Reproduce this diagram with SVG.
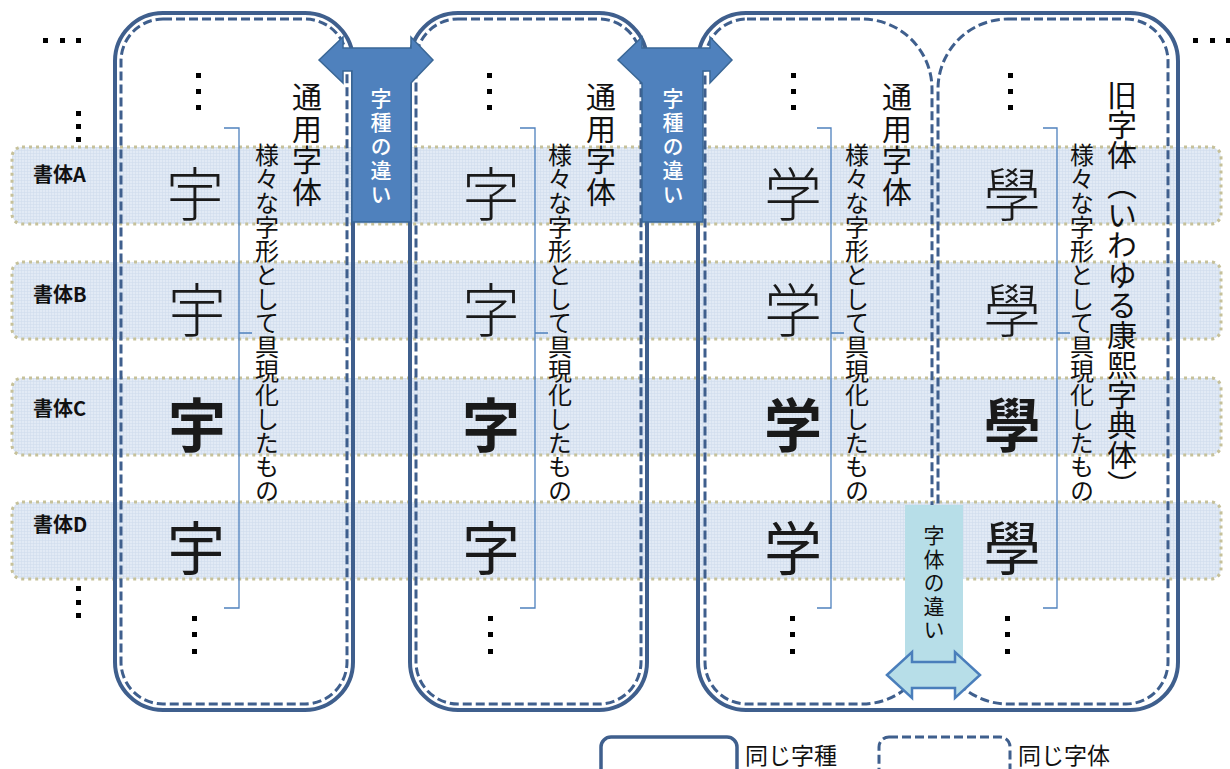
<svg xmlns="http://www.w3.org/2000/svg" width="1230" height="769" viewBox="0 0 1230 769">
<defs>
<pattern id="grid" width="3" height="3" patternUnits="userSpaceOnUse">
<rect width="3" height="3" fill="#e2eaf5"/>
<path d="M0,0.5H3M0.5,0V3" stroke="#d0dcec" stroke-width="0.6"/>
</pattern>
</defs>
<style>
.band{fill:url(#grid);stroke:#c6c19a;stroke-width:3;stroke-dasharray:3 4;}
.lbl{font-family:"Noto Sans CJK JP",sans-serif;font-size:20px;font-weight:700;fill:#111;}
.solid{fill:none;stroke:#3f5f8d;stroke-width:4;}
.dash{fill:none;stroke:#3f5f8d;stroke-width:3;stroke-dasharray:9 4;}
.big{font-family:"Noto Sans CJK JP",sans-serif;font-size:58px;text-anchor:middle;dominant-baseline:central;fill:#1a1a1a;}
.fa{font-weight:200}.fb{font-weight:300}.fc{font-weight:700}.fd{font-weight:400}
.vt{font-family:"Noto Sans CJK JP",sans-serif;writing-mode:vertical-rl;fill:#111;}
.title{font-size:30px;letter-spacing:1.5px}
.title2{font-size:30px}
.desc{font-size:24px}
.dot{fill:#000}
.brace{fill:none;stroke:#4f81bd;stroke-width:1.3}
.arrowdk{fill:#4f81bd;stroke:#3a6796;stroke-width:1.5}
.arrowlt{fill:#b7dee8;stroke:#4a7ebb;stroke-width:2.5}
.lg{font-family:"Noto Sans CJK JP",sans-serif;font-size:23px;fill:#111;}
</style>

<g id="bands">
<rect class="band" x="12" y="147" width="1209" height="77" rx="10"/>
<rect class="band" x="12" y="262" width="1209" height="77" rx="10"/>
<rect class="band" x="12" y="378" width="1209" height="77" rx="10"/>
<rect class="band" x="12" y="502" width="1209" height="77" rx="10"/>
<text class="lbl" x="33" y="182">書体A</text>
<text class="lbl" x="33" y="302">書体B</text>
<text class="lbl" x="33" y="416">書体C</text>
<text class="lbl" x="33" y="532">書体D</text>
</g>

<g id="margin-dots">
<rect class="dot" x="43" y="38" width="5" height="5"/>
<rect class="dot" x="60" y="38" width="5" height="5"/>
<rect class="dot" x="76" y="38" width="5" height="5"/>
<rect class="dot" x="1193" y="38" width="5" height="5"/>
<rect class="dot" x="1210" y="38" width="5" height="5"/>
<rect class="dot" x="1226" y="38" width="5" height="5"/>
<rect class="dot" x="76" y="111" width="5" height="5"/>
<rect class="dot" x="76" y="124" width="5" height="5"/>
<rect class="dot" x="76" y="137" width="5" height="5"/>
<rect class="dot" x="76" y="586" width="5" height="5"/>
<rect class="dot" x="76" y="600" width="5" height="5"/>
<rect class="dot" x="76" y="613" width="5" height="5"/>
</g>

<g id="col1">
<rect class="solid" x="115" y="13" width="238" height="697" rx="48"/>
<rect class="dash" x="121" y="19" width="226" height="685" rx="42"/>
<rect class="dot" x="196" y="73" width="5" height="5"/>
<rect class="dot" x="196" y="89" width="5" height="5"/>
<rect class="dot" x="196" y="105" width="5" height="5"/>
<rect class="dot" x="192" y="616" width="5" height="5"/>
<rect class="dot" x="192" y="632" width="5" height="5"/>
<rect class="dot" x="192" y="649" width="5" height="5"/>
<text class="big fa" x="195" y="191">宇</text>
<text class="big fb" x="197" y="307">宇</text>
<text class="big fc" x="197" y="422">宇</text>
<text class="big fd" x="196" y="545">宇</text>
<path class="brace" d="M224,128 H239 V333 H252 M239,333 V608 H224"/>
<text class="vt title" x="307" y="82">通用字体</text>
<text class="vt desc" x="267" y="143">様々な字形として具現化したもの</text>
</g>

<g id="col2">
<rect class="solid" x="410" y="13" width="237" height="697" rx="48"/>
<rect class="dash" x="416" y="19" width="225" height="685" rx="42"/>
<rect class="dot" x="487" y="73" width="5" height="5"/>
<rect class="dot" x="487" y="89" width="5" height="5"/>
<rect class="dot" x="487" y="105" width="5" height="5"/>
<rect class="dot" x="488" y="616" width="5" height="5"/>
<rect class="dot" x="488" y="632" width="5" height="5"/>
<rect class="dot" x="488" y="649" width="5" height="5"/>
<text class="big fa" x="491" y="191">字</text>
<text class="big fb" x="491" y="307">字</text>
<text class="big fc" x="491" y="422">字</text>
<text class="big fd" x="491" y="545">字</text>
<path class="brace" d="M520,128 H535 V333 H548 M535,333 V608 H520"/>
<text class="vt title" x="601" y="82">通用字体</text>
<text class="vt desc" x="560" y="143">様々な字形として具現化したもの</text>
</g>

<g id="box-same-kind">
<rect class="solid" x="698" y="13" width="480" height="697" rx="48"/>
</g>

<g id="col3">
<path class="dash" d="M747,19 H862 A70,70 0 0 1 932,89 V634 A70,70 0 0 1 862,704 H747 A42,42 0 0 1 705,662 V61 A42,42 0 0 1 747,19 Z"/>
<rect class="dot" x="791" y="73" width="5" height="5"/>
<rect class="dot" x="791" y="89" width="5" height="5"/>
<rect class="dot" x="791" y="105" width="5" height="5"/>
<rect class="dot" x="790" y="616" width="5" height="5"/>
<rect class="dot" x="790" y="632" width="5" height="5"/>
<rect class="dot" x="790" y="649" width="5" height="5"/>
<text class="big fa" x="793" y="191">学</text>
<text class="big fb" x="793" y="307">学</text>
<text class="big fc" x="793" y="422">学</text>
<text class="big fd" x="793" y="545">学</text>
<path class="brace" d="M817,128 H831 V333 H844 M831,333 V608 H817"/>
<text class="vt title" x="897" y="82">通用字体</text>
<text class="vt desc" x="857" y="143">様々な字形として具現化したもの</text>
</g>

<g id="col4">
<path class="dash" d="M1008,19 H1126 A42,42 0 0 1 1168,61 V662 A42,42 0 0 1 1126,704 H1008 A70,70 0 0 1 938,634 V89 A70,70 0 0 1 1008,19 Z"/>
<rect class="dot" x="1008" y="73" width="5" height="5"/>
<rect class="dot" x="1008" y="89" width="5" height="5"/>
<rect class="dot" x="1008" y="105" width="5" height="5"/>
<rect class="dot" x="1005" y="616" width="5" height="5"/>
<rect class="dot" x="1005" y="632" width="5" height="5"/>
<rect class="dot" x="1005" y="649" width="5" height="5"/>
<text class="big fa" x="1012" y="191">學</text>
<text class="big fb" x="1012" y="307">學</text>
<text class="big fc" x="1012" y="422">學</text>
<text class="big fd" x="1012" y="545">學</text>
<path class="brace" d="M1043,128 H1057 V333 H1070 M1057,333 V608 H1043"/>
<text class="vt title2" x="1122" y="80">旧字体（いわゆる康熙字典体）</text>
<text class="vt desc" x="1082" y="143">様々な字形として具現化したもの</text>
</g>

<g id="connectors">
<path class="arrowdk" d="M319,60 L343,37 L343,48 L411,48 L411,37 L433,60 L411,83 L411,222 L352,222 L352,71 L343,71 L343,83 Z"/>
<text class="vt" x="381" y="88" style="font-size:21px;font-weight:500;fill:#fff;letter-spacing:3px">字種の違い</text>
<path class="arrowdk" d="M618,60 L642,37 L642,48 L710,48 L710,37 L732,60 L710,83 L710,71 L703,71 L703,222 L642,222 L642,83 Z"/>
<text class="vt" x="673" y="88" style="font-size:21px;font-weight:500;fill:#fff;letter-spacing:3px">字種の違い</text>
<rect x="905" y="505" width="58" height="158" fill="#b7dee8"/>
<path class="arrowlt" d="M887,675 L912,652 L912,662 L955,662 L955,652 L980,675 L955,698 L955,688 L912,688 L912,698 Z"/>
<text class="vt" x="934" y="525" style="font-size:21px;letter-spacing:2.5px">字体の違い</text>
</g>

<g id="legend">
<rect class="solid" x="601" y="737" width="136" height="50" rx="10" style="stroke-width:3.5"/>
<text class="lg" x="745" y="764">同じ字種</text>
<rect class="dash" x="879" y="737" width="131" height="50" rx="10"/>
<text class="lg" x="1018" y="764">同じ字体</text>
</g>
</svg>
